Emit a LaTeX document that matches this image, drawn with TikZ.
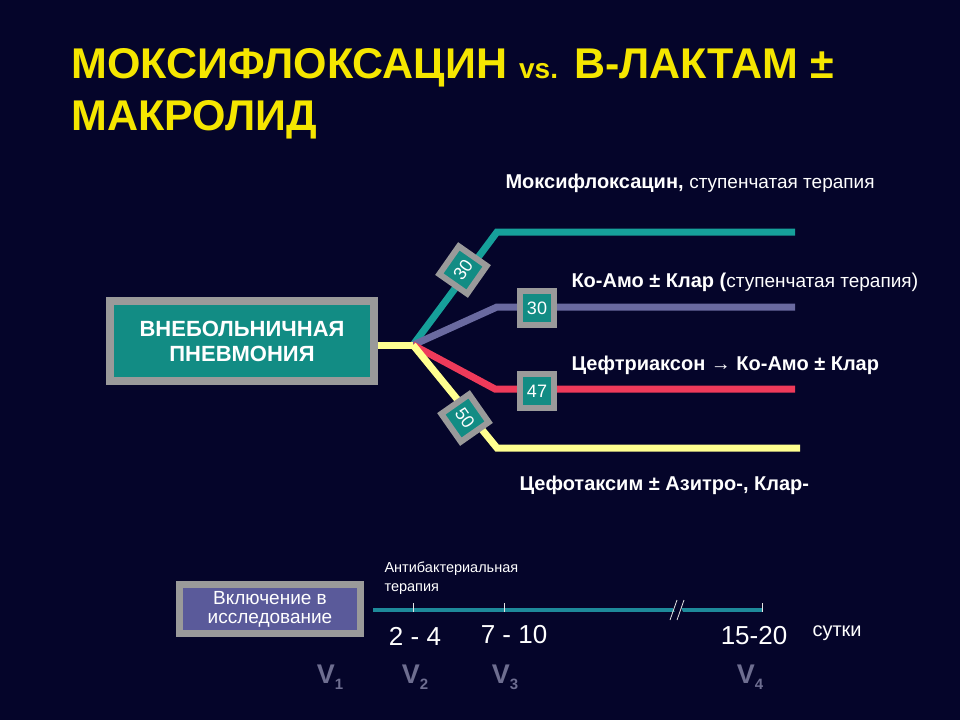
\documentclass[tikz,border=0pt]{standalone}
\usepackage{fontspec}
\setmainfont{Liberation Sans}
\definecolor{bg}{HTML}{05052A}
\definecolor{ttl}{HTML}{F5E600}
\definecolor{tealc}{HTML}{128C84}
\definecolor{teall}{HTML}{16A09A}
\definecolor{purp}{HTML}{6A6AA0}
\definecolor{redl}{HTML}{EE3A5A}
\definecolor{yell}{HTML}{FFFF90}
\definecolor{grayb}{HTML}{9A9A9A}
\definecolor{boxp}{HTML}{5A5A9A}
\definecolor{tline}{HTML}{1E8A9A}
\definecolor{vgray}{HTML}{6E6E90}
\tikzset{
 br/.style={line width=7pt},
 badge/.style={draw=grayb,line width=6pt,fill=tealc,text=white,minimum size=34pt,inner sep=0pt,font=\fontsize{18}{18}\selectfont},
 lbl/.style={text=white,anchor=west,font=\fontsize{20}{22}\selectfont},
 vv/.style={text=vgray,font=\fontsize{27}{27}\selectfont\bfseries},
 num/.style={text=white,font=\fontsize{26}{26}\selectfont},
}
\begin{document}
\begin{tikzpicture}[x=1pt,y=-1pt]
\fill[bg] (0,0) rectangle (960,720);
\useasboundingbox (0,0) rectangle (960,720);
\node[anchor=west,text=ttl,font=\fontsize{43}{46}\selectfont\bfseries] (t1) at (68,68) {МОКСИФЛОКСАЦИН {\fontsize{28}{28}\selectfont vs.} B-ЛАКТАМ ±};
\node[anchor=west,text=ttl,font=\fontsize{43}{46}\selectfont\bfseries] (t2) at (68,120) {МАКРОЛИД};
% main box
\node[draw=grayb,line width=8pt,fill=tealc,minimum width=264pt,minimum height=80pt,text=white,align=center,font=\fontsize{22}{25}\selectfont\bfseries] (cap) at (242,341) {ВНЕБОЛЬНИЧНАЯ\\ПНЕВМОНИЯ};
\coordinate (hub) at (413,345);
\coordinate (st) at (378,345);
\coordinate (a1) at (497,232); \coordinate (a2) at (795,232);
\coordinate (b1) at (497,307); \coordinate (b2) at (795,307);
\coordinate (c1) at (495,389); \coordinate (c2) at (795,389);
\coordinate (d1) at (497,448); \coordinate (d2) at (800,448);
\draw[br,teall] (hub) -- (a1) -- (a2);
\draw[br,purp] (hub) -- (b1) -- (b2);
\draw[br,redl] (hub) -- (c1) -- (c2);
\draw[br,yell] (hub) -- (d1) -- (d2);
\draw[br,yell] (st) -- (hub);
\node[badge,rotate=55] (n1) at (463,270) {30};
\node[badge] (n2) at (537,308) {30};
\node[badge] (n3) at (537,391) {47};
\node[badge,rotate=-55] (n4) at (465,418) {50};
\node[lbl] (l1) at (502,183) {\bfseries Моксифлоксацин, \mdseries\fontsize{19}{20}\selectfont ступенчатая терапия};
\node[lbl] (l2) at (568,282) {\bfseries Ко-Амо ± Клар (\mdseries\fontsize{19}{20}\selectfont ступенчатая терапия\fontsize{20}{22}\selectfont)};
\node[lbl] (l3) at (568,365) {\bfseries Цефтриаксон → Ко-Амо ± Клар};
\node[lbl] (l4) at (516,485) {\bfseries Цефотаксим ± Азитро-, Клар-};
% timeline
\node[draw=grayb,line width=7pt,fill=boxp,minimum width=181pt,minimum height=49pt,text=white,align=center,font=\fontsize{19}{19}\selectfont] (inc) at (270,609) {Включение в\\исследование};
\coordinate (s) at (373,610); \coordinate (e) at (762,610);
\draw[tline,line width=4pt] (s) -- (e);
\foreach \x in {413,504,762} \draw[white!80!gray,line width=0.8pt] (\x,603) -- (\x,612);
\fill[bg] (670,601) -- (678,601) -- (686,619) -- (678,619) -- cycle;
\draw[white!80!gray,line width=0.8pt] (670,620) -- (677,600) (677,620) -- (684,600);
\node[anchor=west,text=white,align=left,font=\fontsize{14.5}{19}\selectfont] (ab) at (381,578) {Антибактериальная\\терапия};
\node[num] (x1) at (415,636) {2 - 4};
\node[num] (x2) at (514,635) {7 - 10};
\node[num] (x3) at (754,636) {15-20};
\node[anchor=west,text=white,font=\fontsize{20}{20}\selectfont] (su) at (809,633) {сутки};
\node[vv] (v1) at (330,677) {V\raisebox{-6pt}{\fontsize{15}{15}\selectfont 1}};
\node[vv] (v2) at (415,677) {V\raisebox{-6pt}{\fontsize{15}{15}\selectfont 2}};
\node[vv] (v3) at (505,677) {V\raisebox{-6pt}{\fontsize{15}{15}\selectfont 3}};
\node[vv] (v4) at (750,677) {V\raisebox{-6pt}{\fontsize{15}{15}\selectfont 4}};
\end{tikzpicture}
\end{document}
